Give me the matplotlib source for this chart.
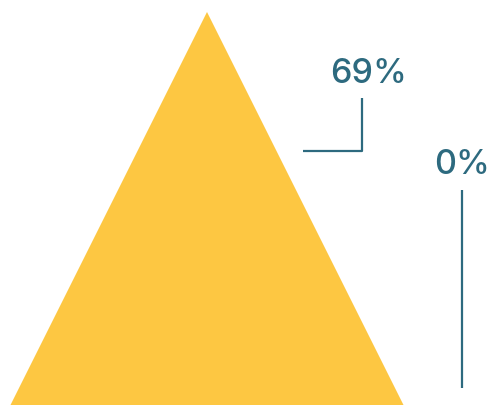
import matplotlib.pyplot as plt
from matplotlib.patches import Polygon

# pyramid data
labels = ["69%", "0%"]
values = [69, 0]

yellow = "#FDC742"
teal = "#2D6A7F"

W, H = 492, 405
fig = plt.figure(figsize=(W / 100, H / 100), dpi=100)
ax = fig.add_axes([0, 0, 1, 1])
ax.set_xlim(0, W)
ax.set_ylim(H, 0)
ax.axis('off')

# triangle geometry (pixel space)
apex_x, apex_y = 207, 12
base_y = 406
half_w = 197
tri = Polygon([(apex_x, apex_y), (apex_x + half_w, base_y), (apex_x - half_w, base_y)],
              closed=True, facecolor=yellow, edgecolor='none')
ax.add_patch(tri)

font = dict(color=teal, fontsize=24.5, family=['Inter', 'DejaVu Sans'],
            weight='medium', ha='center', va='center')

# leader for first label
ax.plot([303, 362, 362], [151, 151, 98], color=teal, lw=1.6, solid_capstyle='butt')
ax.text(369, 74, labels[0], **font)

# leader for second label
ax.plot([462, 462], [190, 388], color=teal, lw=1.6, solid_capstyle='butt')
ax.text(462, 165, labels[1], **font)

fig.savefig('out.png', dpi=100)
